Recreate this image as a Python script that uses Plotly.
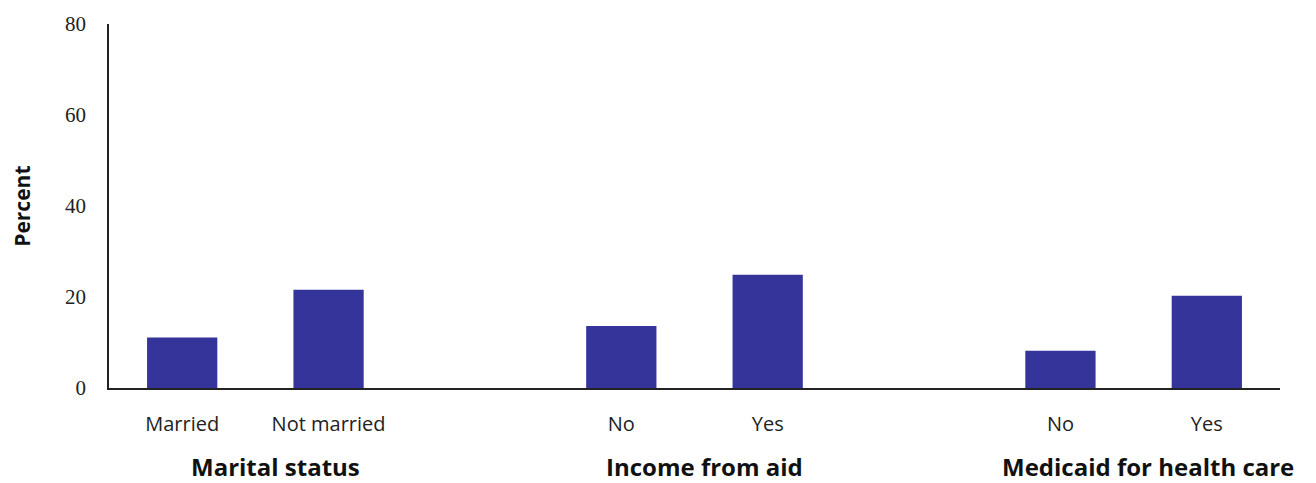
import plotly.graph_objects as go

# Data
categories = ["Married", "Not married", "No", "Yes", "No", "Yes"]
groups = ["Marital status", "Income from aid", "Medicaid for health care"]
percent = [11.1, 21.6, 13.6, 24.9, 8.2, 20.3]
y_ticks = [0, 20, 40, 60, 80]

# two bars per group, one empty slot between groups
positions = [0, 1, 3, 4, 6, 7]
group_label_x = [0.64, 3.57, 6.6]

bar_color = "#35349A"
font_family = "Open Sans"

fig = go.Figure()

fig.add_trace(go.Bar(
    x=positions,
    y=percent,
    width=0.48,
    marker=dict(color=bar_color, line=dict(width=0)),
    hovertext=categories,
))

fig.update_layout(
    width=1316,
    height=483,
    margin=dict(l=109, r=36, t=22, b=95),
    paper_bgcolor="white",
    plot_bgcolor="white",
    showlegend=False,
    font=dict(family=font_family, color="#222222"),
)

fig.update_xaxes(
    range=[-0.5, 7.5],
    tickvals=positions,
    ticktext=categories,
    tickfont=dict(size=20, color="#222222"),
    ticklabelstandoff=17,
    showline=True,
    linecolor="#222222",
    linewidth=1.5,
    showgrid=False,
    zeroline=False,
    ticks="",
)

fig.update_yaxes(
    range=[0, 80],
    tickvals=y_ticks,
    tickfont=dict(size=21, color="#222222", family="Liberation Serif"),
    ticklabelstandoff=17,
    showline=True,
    linecolor="#222222",
    linewidth=1.5,
    showgrid=False,
    zeroline=False,
    ticks="",
)

# group labels under the category labels
for name, gx in zip(groups, group_label_x):
    fig.add_annotation(
        x=gx, y=-0.215,
        xref="x", yref="paper",
        text="<b>" + name + "</b>",
        showarrow=False,
        xanchor="center", yanchor="middle",
        font=dict(size=24, color="#111111", family=font_family),
    )

# y-axis title
fig.add_annotation(
    x=-0.0745, y=0.5,
    xref="paper", yref="paper",
    text="<b>Percent</b>",
    textangle=-90,
    showarrow=False,
    xanchor="center", yanchor="middle",
    font=dict(size=21, color="#111111", family=font_family),
)

fig.write_html("out.html", config={"displayModeBar": False},
               post_script="document.body.style.margin='0';")
